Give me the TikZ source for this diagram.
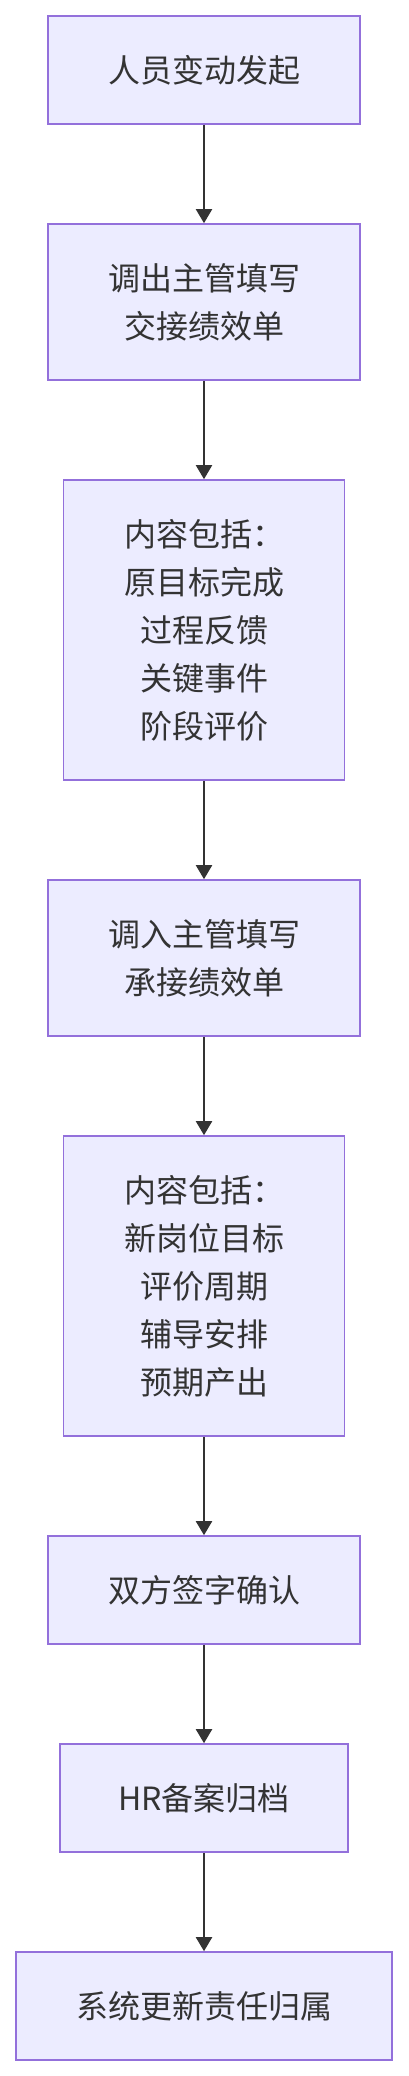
\documentclass[tikz,border=0pt]{standalone}
\usepackage{fontspec}
\setmainfont{Noto Sans CJK SC}
\usetikzlibrary{arrows.meta}
\definecolor{boxfill}{HTML}{ECECFF}
\definecolor{boxline}{HTML}{9370DB}
\definecolor{ink}{HTML}{333333}
\begin{document}
\begin{tikzpicture}[x=1pt,y=-1pt,
  box/.style={draw=boxline, fill=boxfill, line width=1.6pt, inner sep=0pt, align=center, text=ink, font=\fontsize{32}{48}\selectfont},
  flow/.style={draw=ink, line width=2pt, -{Triangle[width=16pt,length=14pt]}}]
\useasboundingbox (0,0) rectangle (408,2076);
\node[box, minimum width=312pt, minimum height=108pt] (n1) at (204,70) {人员变动发起};
\node[box, minimum width=312pt, minimum height=156pt] (n2) at (204,302) {调出主管填写\\交接绩效单};
\node[box, minimum width=281pt, minimum height=300pt] (n3) at (204,630) {内容包括：\\原目标完成\\过程反馈\\关键事件\\阶段评价};
\node[box, minimum width=312pt, minimum height=156pt] (n4) at (204,958) {调入主管填写\\承接绩效单};
\node[box, minimum width=281pt, minimum height=300pt] (n5) at (204,1286) {内容包括：\\新岗位目标\\评价周期\\辅导安排\\预期产出};
\node[box, minimum width=312pt, minimum height=108pt] (n6) at (204,1590) {双方签字确认};
\node[box, minimum width=288pt, minimum height=108pt] (n7) at (204,1798) {HR备案归档};
\node[box, minimum width=376pt, minimum height=108pt] (n8) at (204,2006) {系统更新责任归属};
\draw[flow] (n1) -- (n2);
\draw[flow] (n2) -- (n3);
\draw[flow] (n3) -- (n4);
\draw[flow] (n4) -- (n5);
\draw[flow] (n5) -- (n6);
\draw[flow] (n6) -- (n7);
\draw[flow] (n7) -- (n8);
\end{tikzpicture}
\end{document}
